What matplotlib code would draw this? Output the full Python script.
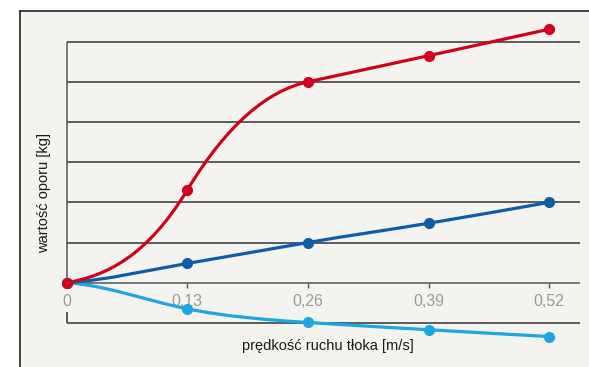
import matplotlib
matplotlib.use('Agg')
import matplotlib.pyplot as plt
from matplotlib.path import Path
from matplotlib.patches import PathPatch, Rectangle

# data (one grid step = 1 unit)
speed = [0.0, 0.13, 0.26, 0.39, 0.52]
tick_labels = ['0', '0,13', '0,26', '0,39', '0,52']

red_vals = [0.0, 2.31, 5.0, 5.65, 6.31]
dark_vals = [0.0, 0.48, 1.0, 1.48, 2.0]
light_vals = [0.0, -0.65, -0.99, -1.17, -1.34]

# slope of the drawn curve at each point
red_slope = [4.0, 38.0, 5.0, 5.04, 5.08]
dark_slope = [1.5, 4.0, 4.0, 3.8, 4.0]
light_slope = [-1.5, -4.6, -1.5, -1.35, -1.3]

grid_levels = [-1, 1, 2, 3, 4, 5, 6]

RED = '#d0021b'
DARK = '#0d5ea6'
LIGHT = '#1ea6e2'
BG = '#f5f3f0'
FONT = ['Liberation Sans Narrow', 'Liberation Sans', 'DejaVu Sans']


def smooth_path(xs, ys, ms):
    # cubic hermite segments written as bezier curves
    verts = [(xs[0], ys[0])]
    codes = [Path.MOVETO]
    for i in range(len(xs) - 1):
        h = xs[i + 1] - xs[i]
        verts += [(xs[i] + h / 3, ys[i] + ms[i] * h / 3),
                  (xs[i + 1] - h / 3, ys[i + 1] - ms[i + 1] * h / 3),
                  (xs[i + 1], ys[i + 1])]
        codes += [Path.CURVE4] * 3
    return Path(verts, codes)


fig = plt.figure(figsize=(5.89, 3.67), dpi=100)
fig.patch.set_facecolor('white')

# textured-paper panel with a frame on left and top
bg = fig.add_axes([20 / 589, 0, 1 - 20 / 589, 1 - 11 / 367])
bg.set_facecolor(BG)
bg.set_xticks([])
bg.set_yticks([])
for side in ['right', 'bottom']:
    bg.spines[side].set_visible(False)
for side in ['left', 'top']:
    bg.spines[side].set_color('#333333')
    bg.spines[side].set_linewidth(1.3)
bg.set_zorder(0)

ax = fig.add_axes([60 / 589, 22 / 367, 525 / 589, 325 / 367])
ax.set_zorder(2)
ax.set_facecolor('none')
ax.set_xlim(-0.00722, 0.5585)
ax.set_ylim(-1.55, 6.538)

ax.hlines(grid_levels, 0, 0.553, color='#333333', lw=1.1, zorder=1)
ax.hlines(0, 0, 0.553, color='#555555', lw=1.1, zorder=1)
ax.vlines(0, 0, 6, color='#555555', lw=1.1, zorder=1)
ax.vlines(0, -1, -0.73, color='#333333', lw=1.1, zorder=1)

for vals, slope, col in [(light_vals, light_slope, LIGHT),
                         (dark_vals, dark_slope, DARK),
                         (red_vals, red_slope, RED)]:
    ax.add_patch(PathPatch(smooth_path(speed, vals, slope), facecolor='none',
                           edgecolor=col, lw=2.3, zorder=3, clip_on=False))
    ax.plot(speed, vals, 'o', color=col, ms=7, zorder=4, clip_on=False)

for s in ax.spines.values():
    s.set_visible(False)
ax.spines['bottom'].set_position(('data', 0))
ax.set_xticks(speed)
ax.set_xticklabels(tick_labels, family=FONT, fontsize=11.5, color='#9a9a9a')
ax.tick_params(axis='x', length=3.6, width=1, color='#555555', pad=4.5)
ax.set_yticks([])

fig.text(44 / 589, 1 - 193 / 367, 'wartość oporu [kg]', rotation=90, ha='center', va='center',
         family=FONT, fontsize=10.5, color='#1a1a1a', zorder=3)
fig.text(328 / 589, 1 - 346 / 367, 'prędkość ruchu tłoka [m/s]', ha='center', va='center',
         family=FONT, fontsize=10.5, color='#1a1a1a', zorder=3)

fig.savefig('out.png', dpi=100, facecolor=fig.get_facecolor())
